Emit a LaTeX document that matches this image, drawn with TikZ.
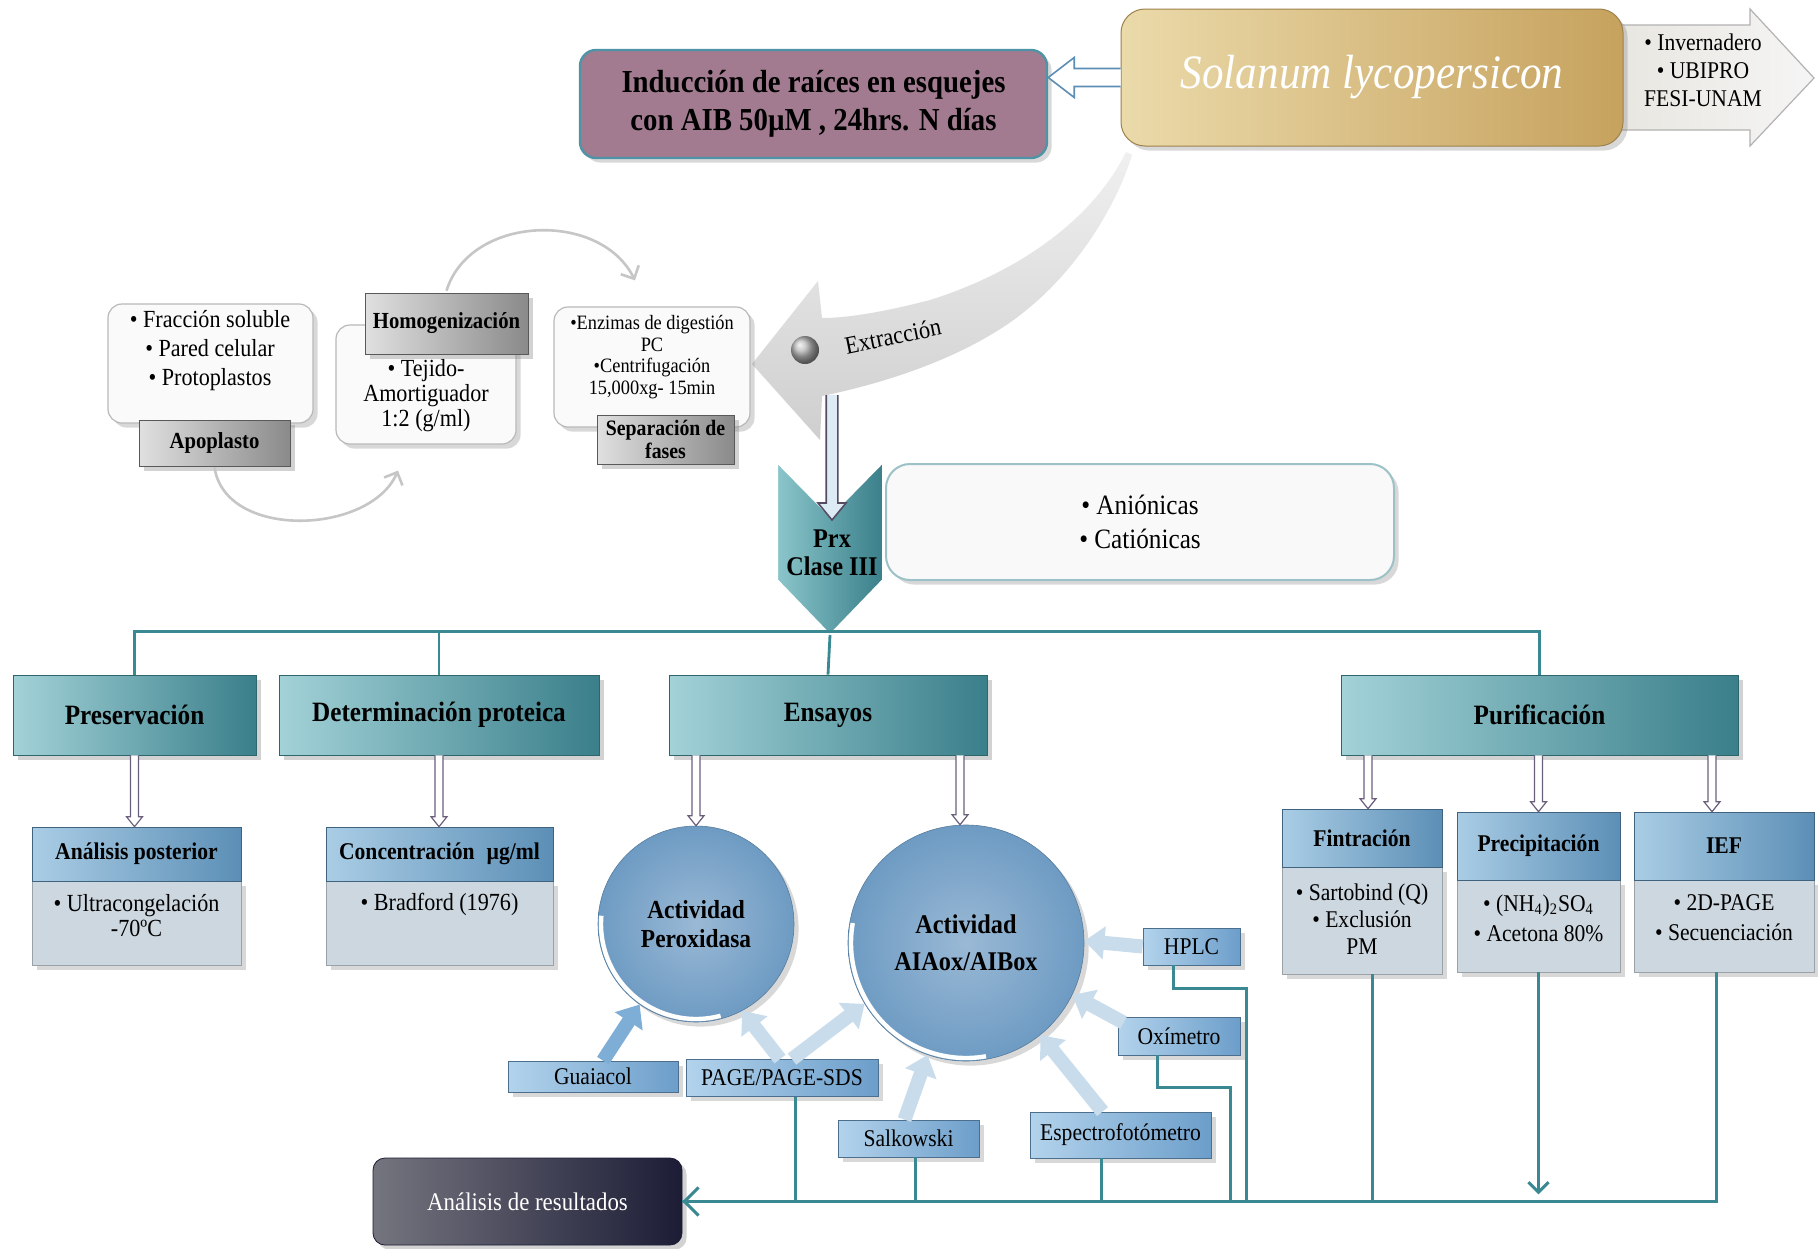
\documentclass[tikz,border=0pt]{standalone}
\usepackage{fontspec}
\setmainfont{Liberation Serif}[FakeStretch=0.9]
\usetikzlibrary{calc,arrows.meta,shadows}
\definecolor{tealL}{HTML}{A3D2D8}
\definecolor{tealD}{HTML}{3A7F8A}
\definecolor{hdrL}{HTML}{AACDE5}
\definecolor{hdrD}{HTML}{5C8FB6}
\definecolor{bodyC}{HTML}{CDD7DF}
\definecolor{circC}{HTML}{6E9BC3}
\definecolor{sbL}{HTML}{B3D3EC}
\definecolor{sbD}{HTML}{6C9ECA}
\definecolor{grayL}{HTML}{E0E0E0}
\definecolor{grayD}{HTML}{8A8A8A}
\definecolor{goldL}{HTML}{EBDAAA}
\definecolor{goldD}{HTML}{C6A25E}
\definecolor{mauve}{HTML}{A27B90}
\definecolor{lineT}{HTML}{3A8891}
\definecolor{holC}{HTML}{6B5F7C}
\definecolor{blkA}{HTML}{C9DCEC}
\definecolor{blkB}{HTML}{7EADD6}
\definecolor{darkL}{HTML}{75757F}
\definecolor{darkD}{HTML}{1C1C36}
\definecolor{bordB}{HTML}{4E93A6}

% hollow arrow pointing down: [style]{from}{to}{half body}{half head}{head length}
\newcommand\hdown[6][]{\draw[#1] let \p1=(#2), \p2=(#3) in
 (\x1-#4,\y1) -- (\x1-#4,\y2+#6) -- (\x1-#5,\y2+#6) -- (\x1,\y2) -- (\x1+#5,\y2+#6) -- (\x1+#4,\y2+#6) -- (\x1+#4,\y1);}
% hollow arrow pointing left
\newcommand\hleft[6][]{\draw[#1] let \p1=(#2), \p2=(#3) in
 (\x1,\y1+#4) -- (\x2+#6,\y1+#4) -- (\x2+#6,\y1+#5) -- (\x2,\y1) -- (\x2+#6,\y1-#5) -- (\x2+#6,\y1-#4) -- (\x1,\y1-#4);}

\begin{document}
\begin{tikzpicture}[x=0.5pt,y=-0.5pt,
  wh/.style 2 args={minimum width=#1*0.5pt, minimum height=#2*0.5pt, inner sep=0pt},
  every node/.style={align=center},
  tealbox/.style={draw=tealD!80!black, line width=0.4pt, left color=tealL, right color=tealD,
     font=\bfseries\fontsize{14}{16}\selectfont, drop shadow={opacity=0.35}},
  hdr/.style={left color=hdrL, right color=hdrD, draw=hdrD!70!black, line width=0.3pt,
     font=\bfseries\fontsize{12}{14}\selectfont},
  bodyst/.style={fill=bodyC, draw=bodyC!75!black, line width=0.3pt, drop shadow={opacity=0.3}},
  bodytxt/.style={font=\fontsize{12.3}{14}\selectfont},
  whitebox/.style={fill=white!96!gray, draw=gray!55, line width=0.6pt, rounded corners=7pt,
     drop shadow={opacity=0.3}},
  graytab/.style={left color=grayL, right color=grayD, draw=gray!70!black, line width=0.3pt,
     font=\bfseries\fontsize{11.5}{13}\selectfont, drop shadow={opacity=0.35}},
  circst/.style={circle, inner sep=0pt, inner color=circC!70!white, outer color=circC,
     draw=circC!80!black, line width=0.3pt, font=\bfseries\fontsize{13}{14.5}\selectfont,
     drop shadow={opacity=0.3}},
  sb/.style={left color=sbL, right color=sbD, draw=sbD!70!black, line width=0.4pt,
     font=\fontsize{12}{13}\selectfont, drop shadow={opacity=0.3}},
  blk/.style={draw=blkA, line width=7pt, -{Triangle[length=10pt 0 0, width=16pt 0 0]}},
  holst/.style={draw=holC, fill=white, line width=0.6pt},
  treeln/.style={draw=lineT, line width=1.4pt},
  tl/.style={draw=lineT, line width=1.5pt},
  arcst/.style={draw=gray!45, line width=1.3pt, -{Straight Barb[length=5pt 0 0, width=10pt 0 0]}}
]
\fill[white] (0,0) rectangle (1818,1248);
\useasboundingbox (0,0) rectangle (1818,1248);

% ---------- top row ----------
\draw[left color=goldL!45!gray!30!white, right color=white!92!gray, draw=gray!60, line width=0.6pt]
  (1600,25) -- (1750,25) -- (1750,9) -- (1814,78) -- (1750,146) -- (1750,130) -- (1600,130) -- cycle;
\node[font=\fontsize{12}{14}\selectfont] (inv) at (1703,70) {• Invernadero\\ • UBIPRO\\ FESI-UNAM};

\node[wh={502}{137}, rounded corners=12pt, left color=goldL, right color=goldD,
      draw=goldD!80!black, line width=0.5pt, drop shadow={opacity=0.3},
      font=\itshape\fontsize{24}{28}\selectfont, text=white] (gold) at (1372,77.5) {Solanum lycopersicon};

\node[wh={467}{108}, fill=mauve, draw=bordB, line width=1.2pt, rounded corners=8pt,
      drop shadow={opacity=0.3}, font=\bfseries\fontsize{16}{19}\selectfont] (purple) at (813.5,104)
      {Inducción de raíces en esquejes\\ con AIB 50µM , 24hrs. N días};

\hleft[draw=hdrD, fill=white, line width=0.8pt]{gold.west}{purple.east}{4.5pt}{10pt}{13pt}

% ---------- Extraccion curved arrow ----------
\path[top color=gray!12, bottom color=gray!38]
  (1126,152) .. controls (1090,225) and (1010,275) .. (930,300)
  .. controls (880,313) and (845,318) .. (822,318) -- (818,281) -- (752,364) -- (820,440) -- (822,396)
  .. controls (900,380) and (980,350) .. (1030,307)
  .. controls (1075,270) and (1115,210) .. (1132,155) -- cycle;
\shade[ball color=gray!55] (805,350) circle (14);
\node[rotate=11.5, font=\fontsize{12.5}{14}\selectfont] (extr) at (893,336) {Extracción};
\coordinate (exsrc) at (832,395);

% ---------- Prx ----------
\node[wh={508}{116}, fill=gray!5, draw=tealL!80!gray, line width=1pt, rounded corners=12pt,
      drop shadow={opacity=0.3}, font=\fontsize{14}{17}\selectfont] (anion) at (1140,522)
      {• Aniónicas\\ • Catiónicas};
\path[left color=tealL!85!teal, right color=tealD, draw=white, line width=1pt]
  (777,462) -- (830,516) -- (883,462) -- (883,580) -- (830,635) -- (777,580) -- cycle;
\node[font=\bfseries\fontsize{13.5}{14}\selectfont] (prx) at (832,553) {Prx\\Clase III};
\coordinate (prxnotch) at (832,520);
\coordinate (prxtip) at (830,635);
\hdown[fill=hdrL!40!white, draw=holC!80!black, line width=0.8pt]{exsrc}{prxnotch}{2.9pt}{7pt}{8.5pt}

% ---------- left cycle ----------
\node[wh={205}{119}, whitebox] (frac) at (210.5,363.5) {};
\node[font=\fontsize{12.3}{14.5}\selectfont] (tfrac) at (210,351) {• Fracción soluble\\ • Pared celular\\ • Protoplastos};
\node[wh={151}{46}, graytab] (apo) at (214.5,443) {Apoplasto};

\node[wh={180}{119}, whitebox] (teji) at (426,384.5) {};
\node[font=\fontsize{12.3}{12.5}\selectfont] (tteji) at (426,396) {• Tejido-\\ Amortiguador\\ 1:2 (g/ml)};
\node[wh={163}{61}, graytab] (homo) at (446.5,323.5) {Homogenización};

\node[wh={196}{120}, whitebox] (enz) at (652,367) {};
\node[font=\fontsize{10.2}{10.8}\selectfont] (tenz) at (652,357) {•Enzimas de digestión\\ PC\\ •Centrifugación\\ 15,000xg- 15min};
\node[wh={137}{49}, graytab, font=\bfseries\fontsize{11}{11.5}\selectfont] (sep) at (665.5,439.5) {Separación de\\ fases};

\draw[arcst] ($(homo.north)+(0,-2)$) .. controls (470,215) and (600,210) .. ($(enz.north)+(-17,-26)$);
\draw[arcst] ($(apo.south)+(0,1)$) .. controls (225,540) and (370,535) .. ($(teji.south)+(-28,26)$);

% ---------- tree ----------
\node[wh={243}{80}, tealbox] (pres) at (134.5,715) {Preservación};
\node[wh={320}{80}, tealbox] (det) at (439,715) {Determinación proteica};
\node[wh={318}{80}, tealbox] (ens) at (828,715) {Ensayos};
\node[wh={397}{80}, tealbox] (pur) at (1539.5,715) {Purificación};
\draw[treeln] (pres.north) -- ++(0,-43) -| (pur.north);
\draw[treeln] (det.north) -- ++(0,-43);
\draw[treeln] (prxtip) -- (ens.north);

% ---------- sub boxes ----------
\node[wh={209}{84}, bodyst] (anposb) at (136.5,923) {};
\node[wh={209}{54}, hdr] (anpos) at (136.5,854) {Análisis posterior};
\node[bodytxt, font=\fontsize{12.3}{12.5}\selectfont] (tanpos) at (136.5,916) {• Ultracongelación\\ -70ºC};

\node[wh={227}{84}, bodyst] (concb) at (439.5,923) {};
\node[wh={227}{54}, hdr] (conc) at (439.5,854) {Concentración\enspace µg/ml};
\node[bodytxt] (tconc) at (439.5,904) {• Bradford (1976)};

\node[wh={160}{107}, bodyst] (fintb) at (1362,920.5) {};
\node[wh={160}{58}, hdr] (fint) at (1362,838) {Fintración};
\node[bodytxt, font=\fontsize{12}{13.5}\selectfont] (tfint) at (1362,919) {• Sartobind (Q)\\ • Exclusión\\ PM};

\node[wh={163}{92}, bodyst] (precb) at (1538.5,926) {};
\node[wh={163}{68}, hdr] (prec) at (1538.5,846) {Precipitación};
\node[bodytxt, font=\fontsize{12}{15}\selectfont] (tprec) at (1538.5,918) {• (NH\textsubscript{4})\textsubscript{2}SO\textsubscript{4}\\ • Acetona 80\%};

\node[wh={180}{92}, bodyst] (iefb) at (1724,926) {};
\node[wh={180}{68}, hdr] (ief) at (1724,846) {IEF};
\node[bodytxt, font=\fontsize{12}{15}\selectfont] (tief) at (1724,918) {• 2D-PAGE\\ • Secuenciación};

% ---------- circles ----------
\node[circst, minimum size=98pt] (perox) at (696,924) {Actividad\\ Peroxidasa};
\node[circst, minimum size=118pt, font=\bfseries\fontsize{13.5}{18.5}\selectfont] (aia) at (966,943) {Actividad\\ AIAox/AIBox};
\draw[white, line width=2.2pt] ([shift={(-175:95)}]perox.center) arc[start angle=-175, end angle=-285, radius=95];
\draw[white, line width=2.2pt] ([shift={(-170:115)}]aia.center) arc[start angle=-170, end angle=-280, radius=115];

% down hollow arrows
\hdown[holst]{pres.south}{anpos.north}{2pt}{4pt}{5pt}
\hdown[holst]{det.south}{conc.north}{2pt}{4pt}{5pt}
\hdown[holst]{perox.north |- ens.south}{perox.north}{2pt}{4pt}{5pt}
\hdown[holst]{$(aia.north |- ens.south)+(-6,0)$}{aia.north}{2pt}{4pt}{5pt}
\hdown[holst]{$(fint.north |- pur.south)+(6,0)$}{fint.north}{2pt}{4pt}{5pt}
\hdown[holst]{prec.north |- pur.south}{prec.north}{2pt}{4pt}{5pt}
\hdown[holst]{$(ief.north |- pur.south)+(-12,0)$}{ief.north}{2pt}{4pt}{5pt}

% ---------- small boxes ----------
\node[wh={170}{31}, sb] (guai) at (593,1076.5) {Guaiacol};
\node[wh={192}{37}, sb] (page) at (782,1078) {PAGE/PAGE-SDS};
\node[wh={141}{37}, sb] (salk) at (908.5,1138.5) {Salkowski};
\node[wh={181}{46}, sb] (espe) at (1120.5,1135) {Espectrofotómetro};
\node[wh={122}{38}, sb] (oxi) at (1179,1036) {Oxímetro};
\node[wh={97}{37}, sb] (hplc) at (1191.5,946.5) {HPLC};

\draw[blk, draw=blkB] ($(guai.north)+(10,0)$) -- (perox.235);
\draw[blk] ($(page.north)+(-2,0)$) -- (perox.298);
\draw[blk] ($(page.north)+(10,0)$) -- (aia.211);
\draw[blk] ($(salk.north)+(-4,0)$) -- (aia.251);
\draw[blk] ($(espe.north)+(-18,0)$) -- (aia.309);
\draw[blk] ($(oxi.north west)+(6,6)$) -- (aia.334);
\draw[blk] (hplc.west) -- (aia.1);

% ---------- results ----------
\node[wh={309}{87}, rounded corners=6pt, left color=darkL, right color=darkD, draw=darkD,
      text=white, font=\fontsize{12.7}{14}\selectfont, drop shadow={opacity=0.35}] (res) at (527.5,1201.5)
      {Análisis de resultados};

\draw[tl, -{Straight Barb[length=7pt 0 0, width=14pt 0 0]}] ($(iefb.south)+(-8,0)$) |- (res.east);
\draw[tl] ($(fintb.south)+(10,0)$) |- (res.east);
\draw[tl, -{Straight Barb[length=5pt 0 0, width=10pt 0 0]}] (precb.south) -- ++(0,222);
\draw[tl] ($(hplc.south)+(-18,0)$) -- ++(0,23) -- ++(72.5,0) |- (res.east);
\draw[tl] ($(oxi.south)+(-22,0)$) -- ++(0,32) -- ++(73,0) |- (res.east);
\draw[tl] ($(espe.south)+(-19.5,0)$) |- (res.east);
\draw[tl] ($(salk.south)+(6.5,0)$) |- (res.east);
\draw[tl] ($(page.south)+(13,0)$) |- (res.east);
\end{tikzpicture}
\end{document}
